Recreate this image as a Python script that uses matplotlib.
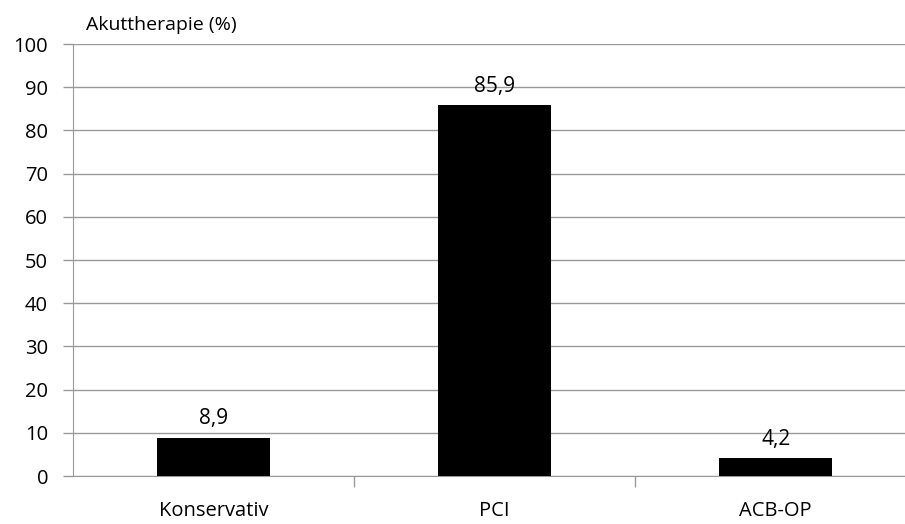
import matplotlib.pyplot as plt

categories = ['Konservativ', 'PCI', 'ACB-OP']
values = [8.9, 85.9, 4.2]
value_labels = ['8,9', '85,9', '4,2']
yticks = [0, 10, 20, 30, 40, 50, 60, 70, 80, 90, 100]

plt.rcParams['font.family'] = ['Open Sans', 'DejaVu Sans']
grey = '#9a9a9a'

fig = plt.figure(figsize=(9.05, 5.24), dpi=100)
ax = fig.add_axes([73 / 905, 48 / 524, 1 - 73 / 905, 432 / 524])

x = range(len(categories))
ax.bar(x, values, width=0.4, color='black', zorder=3)

for xi, v, lab in zip(x, values, value_labels):
    ax.annotate(lab, (xi, v), xytext=(0, 6), textcoords='offset points',
                ha='center', va='bottom', fontsize=15)

ax.set_xlim(-0.5, 2.46)
ax.set_ylim(0, 100)
ax.set_yticks(yticks)
ax.yaxis.grid(True, color=grey, linewidth=1, zorder=0)
ax.set_axisbelow(True)

ax.set_xticks(list(x))
ax.set_xticklabels(categories)
ax.set_xticks([0.5, 1.5], minor=True)
ax.tick_params(axis='x', which='major', length=0, pad=18, labelsize=14.5)
ax.tick_params(axis='x', which='minor', length=8, color=grey, width=1)
ax.tick_params(axis='y', length=7, color=grey, width=1, pad=11, labelsize=14.5)

for s in ['top', 'right']:
    ax.spines[s].set_visible(False)
ax.spines['left'].set_color(grey)
ax.spines['bottom'].set_color(grey)

fig.text(86 / 905, 1 - 30 / 524, 'Akuttherapie (%)', fontsize=14, ha='left', va='baseline')

plt.savefig('out.png', dpi=100)
